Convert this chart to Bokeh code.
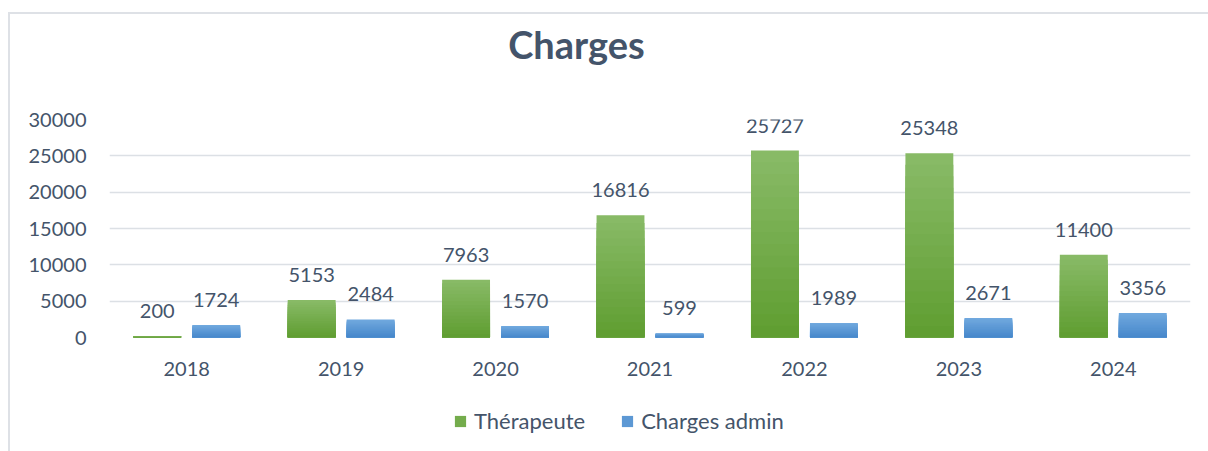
from bokeh.plotting import figure
from bokeh.layouts import column
from bokeh.models import (ColumnDataSource, FactorRange, Range1d, Legend, LegendItem,
                          SingleIntervalTicker, NumeralTickFormatter)
from bokeh.transform import dodge
from bokeh.core.properties import value
from bokeh.embed import file_html
from bokeh.resources import INLINE

years = ["2018", "2019", "2020", "2021", "2022", "2023", "2024"]
therapeute = [200, 5153, 7963, 16816, 25727, 25348, 11400]
charges_admin = [1724, 2484, 1570, 599, 1989, 2671, 3356]
series_names = ["Thérapeute", "Charges admin"]
title_text = "Charges"

FONT = "Lato"
TXT = "#44546A"
WIDTH = 1198
BL, BR = 99, 18  # main plot borders (frames of all strips align to these)

GREEN_TOP, GREEN_BOT = (0x88, 0xBA, 0x66), (0x60, 0x9E, 0x32)
BLUE_TOP, BLUE_BOT = (0x70, 0xA8, 0xDE), (0x47, 0x88, 0xCB)


def mix(c1, c2, t):
    return "#%02x%02x%02x" % tuple(int(round(a + (b - a) * t)) for a, b in zip(c1, c2))


def strip(h):
    f = figure(x_range=Range1d(BL, WIDTH - BR), y_range=Range1d(0, h), width=WIDTH, height=h,
               output_backend="svg", toolbar_location=None, min_border=0)
    f.axis.visible = False
    f.grid.visible = False
    f.outline_line_color = None
    f.border_fill_color = "white"
    return f


# title strip
t = strip(93)
t.text(x=[566], y=[64], text=[title_text], text_font=value(FONT), text_font_size="38px",
       text_font_style="bold", text_color=TXT, text_align="center",
       text_baseline="alphabetic")

# main chart
p = figure(x_range=FactorRange(*years, range_padding=0), y_range=Range1d(0, 30000),
           width=WIDTH, height=285, output_backend="svg", toolbar_location=None,
           min_border_left=BL, min_border_right=BR, min_border_top=12, min_border_bottom=55)
p.outline_line_color = None
p.background_fill_color = "white"
p.border_fill_color = "white"

src = ColumnDataSource(dict(year=years, t=therapeute, a=charges_admin,
                            t_lab=[str(v) for v in therapeute],
                            a_lab=[str(v) for v in charges_admin]))

N = 16
OFF = 0.191
W = 0.31
colors_mid = {}
for key, off, ctop, cbot, name in [("t", -OFF, GREEN_TOP, GREEN_BOT, series_names[0]),
                                    ("a", OFF, BLUE_TOP, BLUE_BOT, series_names[1])]:
    vals = src.data[key]
    for k in range(N):
        f = 1 - k / N
        s = ColumnDataSource(dict(year=years, top=[v * f for v in vals]))
        p.vbar(x=dodge("year", off, range=p.x_range), top="top", width=W, source=s,
               fill_color=mix(ctop, cbot, k / (N - 1)), line_color=None)
    colors_mid[name] = mix(ctop, cbot, 0.5)
    p.text(x=dodge("year", off, range=p.x_range), y=key, text=key + "_lab", source=src,
           text_font=value(FONT), text_font_size="20px", text_color=TXT,
           text_align="center", text_baseline="bottom", y_offset=-18)

p.yaxis.ticker = SingleIntervalTicker(interval=5000)
p.yaxis.formatter = NumeralTickFormatter(format="0")
for ax in (p.xaxis[0], p.yaxis[0]):
    ax.axis_line_color = None
    ax.major_tick_line_color = None
    ax.minor_tick_line_color = None
    ax.major_tick_out = 0
    ax.major_tick_in = 0
    ax.major_label_text_font = FONT
    ax.major_label_text_font_size = "20px"
    ax.major_label_text_color = TXT
p.yaxis.major_label_standoff = 19
p.xaxis.major_label_standoff = 24
p.xgrid.grid_line_color = None
p.ygrid.grid_line_color = "#DCE0E5"
p.ygrid.grid_line_width = 1.5

# legend strip
q = strip(59)
items = []
for n in series_names:
    r = q.vbar(x=[-100], top=[-100], width=1, fill_color=colors_mid[n], line_color=None)
    items.append(LegendItem(label=n, renderers=[r]))
legend = Legend(items=items, orientation="horizontal", location=(344, 17),
                label_text_font=FONT, label_text_font_size="22px", label_text_color=TXT,
                glyph_width=14, glyph_height=14, label_standoff=7, spacing=35,
                padding=0, margin=0, border_line_color=None, background_fill_alpha=0,
                label_height=22)
q.add_layout(legend, "center")

layout = column(t, p, q, spacing=0)
layout.styles = {"margin": "12px 0 0 8px", "border-left": "2px solid #DEE1E6",
                 "border-top": "2px solid #DEE1E6"}

open("out.html", "w").write(file_html(layout, INLINE))
